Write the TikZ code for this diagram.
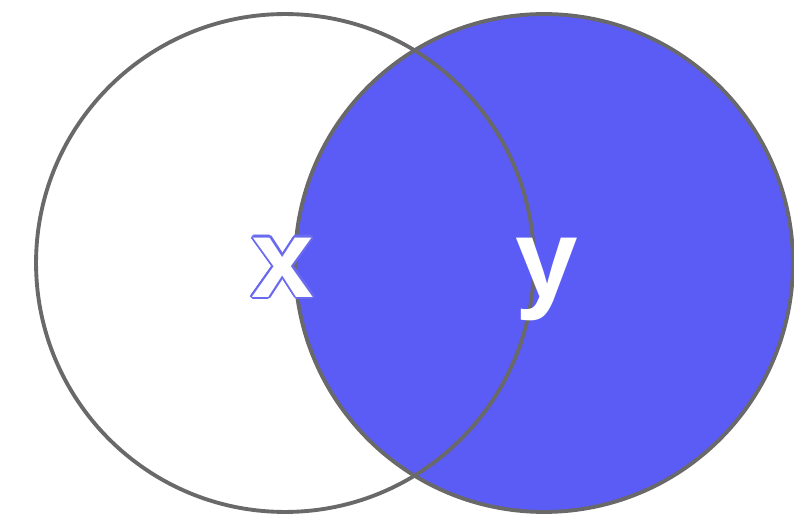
\documentclass[tikz,border=0pt]{standalone}
\usepackage{xcolor}
\usepackage{fontspec}
\setmainfont{Liberation Sans}
\usepackage{contour}
\usepackage{tikz}
\definecolor{VennBlue}{HTML}{5B5BF6}
\definecolor{VennLine}{HTML}{696969}
\definecolor{VennEdge}{HTML}{6A6AEE}
\contourlength{1.2pt}
\contournumber{16}

\begin{document}
\begin{tikzpicture}[x=0.02cm,y=-0.02cm]
\path[use as bounding box] (0,0) rectangle (794,520);
\tikzset{setring/.style={circle,draw=VennLine,line width=2.2pt,minimum size=9.96cm,inner sep=0pt},
  setlabel/.style={text=white,anchor=base,inner sep=0pt,font=\fontsize{64}{70}\selectfont\bfseries}}
\node[setring,fill=VennBlue] (setY) at (544,263) {};
\node[setring] (setX) at (285,263) {};
\node[setlabel] (labX) at (283,297) {\contour{VennEdge}{x}};
\node[setlabel] (labY) at (547,297) {y};
\end{tikzpicture}
\end{document}
